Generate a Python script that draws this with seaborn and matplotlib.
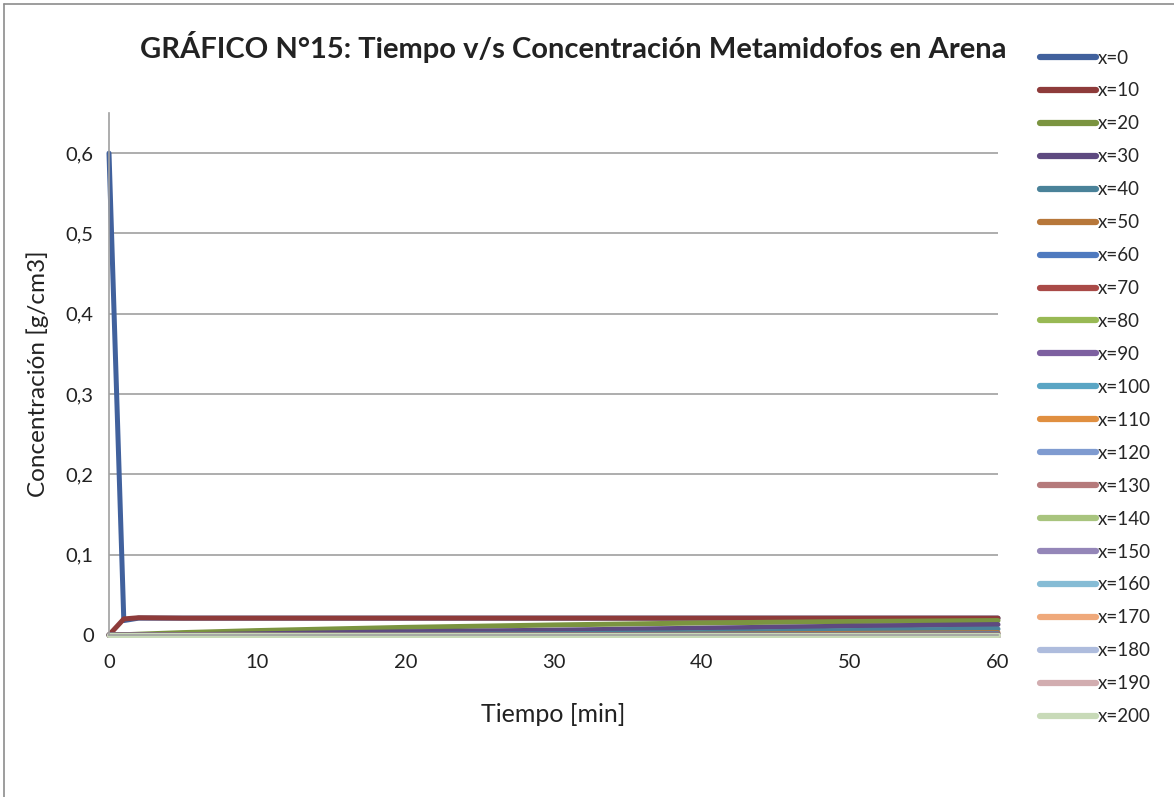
import matplotlib
matplotlib.use("Agg")
import matplotlib.pyplot as plt
from matplotlib.lines import Line2D
import seaborn as sns
import pandas as pd

# ---- data ----
tiempo = [0, 1, 2, 5, 10, 20, 30, 40, 50, 60]
series_labels = ["x=0", "x=10", "x=20", "x=30", "x=40", "x=50", "x=60", "x=70",
                 "x=80", "x=90", "x=100", "x=110", "x=120", "x=130", "x=140",
                 "x=150", "x=160", "x=170", "x=180", "x=190", "x=200"]
c_x0 = [0.6, 0.018, 0.021, 0.021, 0.021, 0.021, 0.021, 0.021, 0.021, 0.021]
c_x10 = [0.0, 0.020, 0.0215, 0.021, 0.021, 0.021, 0.021, 0.021, 0.021, 0.021]
c_x20 = [0.0, 0.0003, 0.001, 0.003, 0.0055, 0.0095, 0.0125, 0.015, 0.0168, 0.018]
c_x30 = [0.0, 0.0, 0.0, 0.0003, 0.0015, 0.004, 0.006, 0.0085, 0.011, 0.013]
c_x40 = [0.0, 0.0, 0.0, 0.0, 0.0002, 0.0008, 0.0015, 0.003, 0.0055, 0.0075]
c_x50 = [0.0, 0.0, 0.0, 0.0, 0.0, 0.0001, 0.0003, 0.001, 0.002, 0.003]
c_x60 = [0.0, 0.0, 0.0, 0.0, 0.0, 0.0, 0.0001, 0.0003, 0.0008, 0.0015]
c_x70 = [0.0, 0.0, 0.0, 0.0, 0.0, 0.0, 0.0, 0.0001, 0.0003, 0.0006]
c_x80 = [0.0, 0.0, 0.0, 0.0, 0.0, 0.0, 0.0, 0.0, 0.0001, 0.0002]
c_x90 = [0.0, 0.0, 0.0, 0.0, 0.0, 0.0, 0.0, 0.0, 0.0, 0.0001]
c_x100 = [0.0, 0.0, 0.0, 0.0, 0.0, 0.0, 0.0, 0.0, 0.0, 0.0]
c_x110 = [0.0, 0.0, 0.0, 0.0, 0.0, 0.0, 0.0, 0.0, 0.0, 0.0]
c_x120 = [0.0, 0.0, 0.0, 0.0, 0.0, 0.0, 0.0, 0.0, 0.0, 0.0]
c_x130 = [0.0, 0.0, 0.0, 0.0, 0.0, 0.0, 0.0, 0.0, 0.0, 0.0]
c_x140 = [0.0, 0.0, 0.0, 0.0, 0.0, 0.0, 0.0, 0.0, 0.0, 0.0]
c_x150 = [0.0, 0.0, 0.0, 0.0, 0.0, 0.0, 0.0, 0.0, 0.0, 0.0]
c_x160 = [0.0, 0.0, 0.0, 0.0, 0.0, 0.0, 0.0, 0.0, 0.0, 0.0]
c_x170 = [0.0, 0.0, 0.0, 0.0, 0.0, 0.0, 0.0, 0.0, 0.0, 0.0]
c_x180 = [0.0, 0.0, 0.0, 0.0, 0.0, 0.0, 0.0, 0.0, 0.0, 0.0]
c_x190 = [0.0, 0.0, 0.0, 0.0, 0.0, 0.0, 0.0, 0.0, 0.0, 0.0]
c_x200 = [0.0, 0.0, 0.0, 0.0, 0.0, 0.0, 0.0, 0.0, 0.0, 0.0]
all_values = [c_x0, c_x10, c_x20, c_x30, c_x40, c_x50, c_x60, c_x70, c_x80, c_x90,
              c_x100, c_x110, c_x120, c_x130, c_x140, c_x150, c_x160, c_x170,
              c_x180, c_x190, c_x200]
colors = ["#41619D", "#8E3B3A", "#7B9440", "#5E4A80", "#4A8299", "#B7773A",
          "#4F7ABF", "#A94A47", "#98B954", "#7D60A0", "#5AA5C4", "#E08F40",
          "#7F9BD0", "#B57A7B", "#A8C47E", "#9486B8", "#86BCD5", "#EFA97B",
          "#AEBCDD", "#D2ADB0", "#C8DAB8"]
yticks = [0, 0.1, 0.2, 0.3, 0.4, 0.5, 0.6]
ytick_labels = ["0", "0,1", "0,2", "0,3", "0,4", "0,5", "0,6"]
xticks = [0, 10, 20, 30, 40, 50, 60]

rows = []
for lab, vals in zip(series_labels, all_values):
    for t, v in zip(tiempo, vals):
        rows.append({"Tiempo": t, "Conc": v, "Serie": lab})
df = pd.DataFrame(rows)

sns.set_theme(style="white")
plt.rcParams["font.family"] = ["Lato", "DejaVu Sans"]

fig = plt.figure(figsize=(11.74, 7.97), dpi=100)
ax = fig.add_axes([109 / 1174, 1 - 635 / 797, (998 - 109) / 1174, (635 - 113) / 797])

sns.lineplot(data=df, x="Tiempo", y="Conc", hue="Serie", hue_order=series_labels,
             palette=colors, linewidth=3.6, estimator=None, sort=False, ax=ax,
             solid_capstyle="round", clip_on=False)

ax.set_xlim(0, 60)
ax.set_ylim(0, 0.65)
ax.set_xticks(xticks)
ax.set_xticklabels([str(v) for v in xticks])
ax.set_yticks(yticks)
ax.set_yticklabels(ytick_labels)
ax.tick_params(axis="both", labelsize=14.5, colors="#222222", length=0, pad=14)
ax.tick_params(axis="y", length=3, color="#A0A0A0", width=1.2, direction="out", pad=8)
ax.yaxis.grid(True, color="#A0A0A0", linewidth=1.2)
ax.xaxis.grid(False)
for s in ["top", "right"]:
    ax.spines[s].set_visible(False)
for s in ["left", "bottom"]:
    ax.spines[s].set_color("#A0A0A0")
    ax.spines[s].set_linewidth(1.2)
ax.set_axisbelow(True)

ax.set_xlabel("Tiempo [min]", fontsize=18, color="#222222", labelpad=23)
ax.set_ylabel("Concentración [g/cm3]", fontsize=17.5, color="#222222", labelpad=12)

fig.text(573 / 1174, 1 - 47 / 797, "GRÁFICO N°15: Tiempo v/s Concentración Metamidofos en Arena",
         ha="center", va="center", fontsize=21, fontweight="bold", color="#222222")

handles, labels = ax.get_legend_handles_labels()
ax.get_legend().remove()
leg = fig.legend(handles, labels, loc="upper left", bbox_to_anchor=(1032 / 1174, 1 - 42 / 797),
                 frameon=False, fontsize=13.5, handlelength=3.0, handletextpad=0.12,
                 labelspacing=0.85, borderaxespad=0)
for line in leg.get_lines():
    line.set_linewidth(4.5)
    line.set_solid_capstyle("round")

fig.add_artist(Line2D([4 / 1174, 4 / 1174], [0, 1 - 4 / 797], transform=fig.transFigure,
                      color="#8C8C8C", linewidth=1.2))
fig.add_artist(Line2D([4 / 1174, 1], [1 - 4 / 797, 1 - 4 / 797], transform=fig.transFigure,
                      color="#8C8C8C", linewidth=1.2))

fig.savefig("out.png", dpi=100)
